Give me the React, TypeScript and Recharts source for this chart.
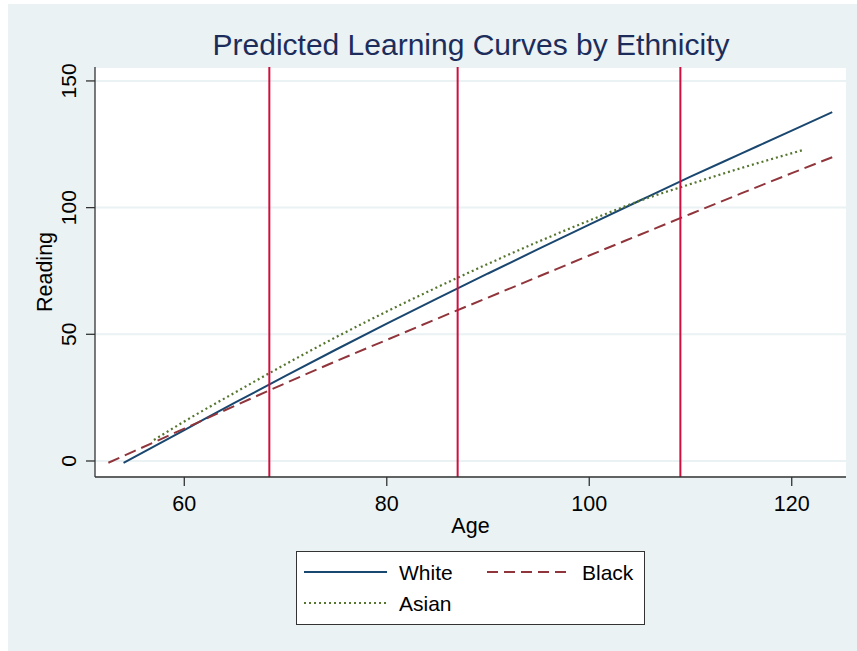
import { LineChart, Line, XAxis, YAxis, CartesianGrid, ReferenceLine, Label } from "recharts";

// values
const whiteAges = [54, 60, 65, 70, 75, 80, 85, 90, 95, 100, 105, 110, 115, 120, 124];
const whiteReading = [-0.7, 12.2, 23.0, 33.6, 44.0, 54.2, 64.2, 74.0, 83.7, 93.3, 102.8, 112.2, 121.3, 130.4, 137.7];

const blackAges = [52.5, 55, 60, 65, 70, 75, 80, 85, 90, 95, 100, 105, 110, 115, 120, 124];
const blackReading = [-0.7, 3.8, 12.8, 21.8, 30.7, 39.4, 47.8, 56.2, 64.5, 72.8, 81.1, 89.3, 97.5, 105.6, 113.6, 119.9];

const asianAges = [57, 60, 65, 70, 75, 80, 85, 90, 95, 100, 105, 110, 115, 121];
const asianReading = [8.3, 15.6, 27.0, 38.2, 48.9, 59.0, 68.6, 77.8, 86.6, 94.9, 102.7, 109.3, 115.6, 122.6];

// mean age at each wave (vertical markers)
const waveAges = [68.4, 87.0, 109.0];

const xTicks = [60, 80, 100, 120];
const yTicks = [0, 50, 100, 150];

const toPoints = (ages: number[], vals: number[]) => ages.map((age, i) => ({ age, reading: vals[i] }));

const whiteData = toPoints(whiteAges, whiteReading);
const blackData = toPoints(blackAges, blackReading);
const asianData = toPoints(asianAges, asianReading);

const FONT = "'Liberation Sans', Arial, sans-serif";
const BG = "#EAF2F3";
const NAVY = "#1A476F";
const MAROON = "#90353B";
const GREEN = "#55752F";
const RED = "#D00F3F";

function YTick(props: any) {
  const { y, payload } = props;
  const cx = 69;
  return (
    <text
      x={cx}
      y={y}
      transform={`rotate(-90, ${cx}, ${y})`}
      textAnchor="middle"
      dominantBaseline="central"
      fontSize={21}
      fontFamily={FONT}
      fill="#000"
    >
      {payload.value}
    </text>
  );
}

function LegendBox() {
  const items = [
    { name: "White", color: NAVY, dash: undefined, x: 8, y: 21 },
    { name: "Black", color: MAROON, dash: "11 6", x: 191, y: 21 },
    { name: "Asian", color: GREEN, dash: "2 3", x: 8, y: 52 },
  ];
  return (
    <svg width={349} height={74} style={{ display: "block" }}>
      <rect x={0.5} y={0.5} width={348} height={73} fill="#fff" stroke="#333" strokeWidth={1} />
      {items.map((it) => (
        <g key={it.name}>
          <line x1={it.x} x2={it.x + 83} y1={it.y} y2={it.y} stroke={it.color} strokeWidth={2} strokeDasharray={it.dash} />
          <text x={it.x + 95} y={it.y} dominantBaseline="central" fontSize={21} fontFamily={FONT} fill="#000">
            {it.name}
          </text>
        </g>
      ))}
    </svg>
  );
}

export default function App() {
  return (
    <div style={{ position: "absolute", left: 0, top: 0, width: 857, height: 651, background: "#fff" }}>
      <div style={{ position: "absolute", left: 8, top: 4, width: 849, height: 647, background: BG }} />
      <div
        style={{
          position: "absolute",
          left: 0,
          width: 942,
          top: 28,
          textAlign: "center",
          fontFamily: FONT,
          fontSize: 30,
          color: "#1C2D5C",
          whiteSpace: "nowrap",
        }}
      >
        Predicted Learning Curves by Ethnicity
      </div>
      <div style={{ position: "absolute", left: 0, top: 0 }}>
        <LineChart width={857} height={651} margin={{ top: 67, right: 11, bottom: 114, left: 0 }}>
          <CartesianGrid vertical={false} horizontal fill="#ffffff" stroke={BG} strokeWidth={2} />
          <XAxis
            type="number"
            dataKey="age"
            domain={[51.18, 125.36]}
            ticks={xTicks}
            allowDataOverflow
            height={60}
            tickSize={9}
            tickMargin={10}
            stroke="#333"
            strokeWidth={1.3}
            tick={{ fontSize: 21.5, fill: "#000", fontFamily: FONT }}
          >
            <Label
              content={({ viewBox }: any) => (
                <text
                  x={viewBox.x + viewBox.width / 2}
                  y={533}
                  textAnchor="middle"
                  fontSize={21.5}
                  fontFamily={FONT}
                  fill="#000"
                >
                  Age
                </text>
              )}
            />
          </XAxis>
          <YAxis
            type="number"
            dataKey="reading"
            domain={[-6.32, 155.5]}
            ticks={yTicks}
            allowDataOverflow
            width={95}
            tickSize={9}
            stroke="#333"
            strokeWidth={1.3}
            tick={<YTick />}
          >
            <Label
              content={({ viewBox }: any) => {
                const cx = 45;
                const cy = viewBox.y + viewBox.height / 2;
                return (
                  <text
                    x={cx}
                    y={cy}
                    transform={`rotate(-90, ${cx}, ${cy})`}
                    textAnchor="middle"
                    dominantBaseline="central"
                    fontSize={21.5}
                    fontFamily={FONT}
                    fill="#000"
                  >
                    Reading
                  </text>
                );
              }}
            />
          </YAxis>
          <Line data={whiteData} dataKey="reading" name="White" type="monotone" stroke={NAVY} strokeWidth={2} dot={false} isAnimationActive={false} />
          <Line data={blackData} dataKey="reading" name="Black" type="monotone" stroke={MAROON} strokeWidth={2} strokeDasharray="12 6" dot={false} isAnimationActive={false} />
          <Line data={asianData} dataKey="reading" name="Asian" type="monotone" stroke={GREEN} strokeWidth={2.2} strokeDasharray="2 3" dot={false} isAnimationActive={false} />
          {waveAges.map((a) => (
            <ReferenceLine key={a} x={a} stroke={RED} strokeWidth={2} />
          ))}
        </LineChart>
      </div>
      <div style={{ position: "absolute", left: 296, top: 551 }}>
        <LegendBox />
      </div>
    </div>
  );
}
